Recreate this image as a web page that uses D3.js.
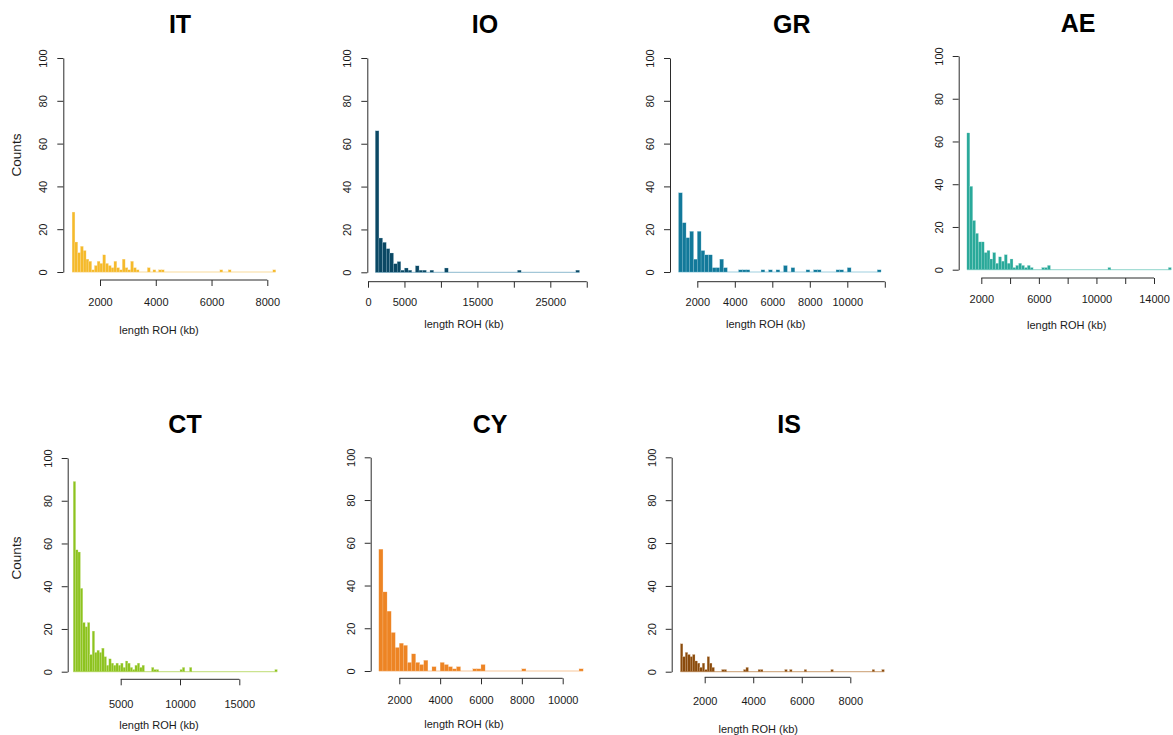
<!DOCTYPE html>
<html>
<head>
<meta charset="utf-8">
<script src="https://cdn.jsdelivr.net/npm/d3@7"></script>
<style>
  body { margin: 0; background: #ffffff; }
  svg { display: block; font-family: "Liberation Sans", Arial, Helvetica, sans-serif; }
</style>
</head>
<body>
<svg id="chart" width="1173" height="735"></svg>
<script>
// ---- Data: ROH length histograms per population (counts per bin) ----
const populations = ["IT", "IO", "GR", "AE", "CT", "CY", "IS"];
const binStartKb = [1000, 1000, 1000, 1000, 1000, 1000, 1000];
const binWidthKb = [100, 500, 200, 200, 200, 200, 100];

const itCounts = [28,14,9,12,10,6,5,1,3,5,4,8,4,3,2,5,2,1,6,2,1,5,2,1,
  0,0,0,2,0,1,0,1,1,
  0,0,0,0,0,0,0,0,0,0,0,0,0,0,0,0,0,0,0,0,
  1,0,0,1,
  0,0,0,0,0,0,0,0,0,0,0,0,0,0,0,
  1];
const ioCounts = [66,16,14,11,9,4,5,1,2,1,0,3,1,1,0,1,0,0,0,2,
  0,0,0,0,0,0,0,0,0,0,0,0,0,0,0,0,0,0,0,
  1,
  0,0,0,0,0,0,0,0,0,0,0,0,0,0,0,
  1];
const grCounts = [37,23,16,19,6,19,10,8,8,2,2,6,2,0,0,0,1,1,1,0,0,0,1,0,1,0,1,0,3,0,2,0,0,0,1,0,1,1,0,0,0,0,1,1,0,2,
  0,0,0,0,0,0,0,
  1];
const aeCounts = [64,39,23,17,13,13,8,9,5,8,3,6,4,7,3,5,1,2,3,2,1,2,1,
  0,0,0,1,1,2,
  0,0,0,0,0,0,0,0,0,0,0,0,0,0,0,0,0,0,0,0,
  1,
  0,0,0,0,0,0,0,0,0,0,0,0,0,0,0,0,0,0,0,0,
  1];
const ctCounts = [89,57,56,39,23,21,23,8,19,9,10,9,11,7,3,6,4,3,4,3,4,2,5,4,2,1,3,4,2,3,
  0,0,0,2,1,1,
  0,0,0,0,0,0,0,0,0,
  1,2,0,0,2,
  0,0,0,0,0,0,0,0,0,0,0,0,0,0,0,0,0,0,0,0,0,0,0,0,0,0,0,0,0,0,0,0,0,0,0,
  1];
const cyCounts = [57,37,28,18,11,13,12,4,8,4,3,5,0,2,0,4,3,2,1,2,0,0,0,1,1,3,
  0,0,0,0,0,0,0,0,0,
  1,
  0,0,0,0,0,0,0,0,0,0,0,0,0,
  1];
const isCounts = [13,7,9,8,7,8,5,4,2,4,1,7,4,2,
  0,0,0,1,1,
  0,0,0,0,0,0,0,
  1,2,
  0,0,0,0,
  1,1,
  0,0,0,0,0,0,0,0,0,
  1,0,1,
  0,0,0,0,0,
  1,
  0,0,0,0,0,0,0,0,0,0,
  1,
  0,0,0,0,0,0,0,0,0,0,0,0,0,0,0,0,
  1,
  0,0,0,
  1];
const countsByPop = [itCounts, ioCounts, grCounts, aeCounts, ctCounts, cyCounts, isCounts];

// Axis ticks
const yTicks = [0, 20, 40, 60, 80, 100];
const xTickValues = [
  [2000, 4000, 6000, 8000],
  [0, 5000, 10000, 15000, 20000, 25000, 30000],
  [2000, 4000, 6000, 8000, 10000, 12000],
  [2000, 4000, 6000, 8000, 10000, 12000, 14000],
  [5000, 10000, 15000],
  [2000, 4000, 6000, 8000, 10000],
  [2000, 4000, 6000, 8000]
];
const xTickLabels = [
  ["2000", "4000", "6000", "8000"],
  ["0", "5000", "", "15000", "", "25000", ""],
  ["2000", "4000", "6000", "8000", "10000", ""],
  ["2000", "", "6000", "", "10000", "", "14000"],
  ["5000", "10000", "15000"],
  ["2000", "4000", "6000", "8000", "10000"],
  ["2000", "4000", "6000", "8000"]
];

// ---- Styles ----
const barFill = ["#f5ba2b", "#0b4864", "#12799a", "#2aa99a", "#8dc31f", "#ed8424", "#8a4b0c"];
const barEdge = ["#f9dc9c", "#a3c7d8", "#9fd0e0", "#a5ddd5", "#cbe38f", "#f7c89c", "#d4b08c"];

// ---- Layout of each panel (pixel frame) ----
// ax: y-axis x position; y0/y100: pixel rows for 0 and 100 counts;
// kx: two reference kb values and their pixel columns; xaY: x-axis row;
// tlY: tick label baseline; xlX/xlY: x-axis title; tX/tY: panel title
const frames = [
  { ax: 63.3,  y0: 272,   y100: 58,   kx: [[2000, 100],   [8000, 267.3]],  xaY: 280,   tlY: 306, xlX: 159,   xlY: 334, tX: 180,   tY: 33, counts: { x: 21, y: 155 } },
  { ax: 367.3, y0: 272.3, y100: 58,   kx: [[0, 368],      [25000, 550.3]], xaY: 281.7, tlY: 306, xlX: 464,   xlY: 328, tX: 485,   tY: 33 },
  { ax: 670,   y0: 272,   y100: 58,   kx: [[2000, 697.3], [10000, 847.3]], xaY: 281.7, tlY: 306, xlX: 765.7, xlY: 328, tX: 791.7, tY: 33 },
  { ax: 958.7, y0: 269.7, y100: 56,   kx: [[2000, 981.3], [14000, 1154]],  xaY: 278,   tlY: 303, xlX: 1066.7, xlY: 329, tX: 1078, tY: 32 },
  { ax: 67.7,  y0: 671.7, y100: 458,  kx: [[5000, 120.7], [15000, 239.3]], xaY: 679.3, tlY: 708, xlX: 159,   xlY: 729, tX: 185,   tY: 433, counts: { x: 21, y: 558 } },
  { ax: 370.7, y0: 671,   y100: 457.3, kx: [[2000, 399.3], [10000, 562.7]], xaY: 678.3, tlY: 704, xlX: 464,  xlY: 728, tX: 490,   tY: 433 },
  { ax: 671.7, y0: 671.7, y100: 457.3, kx: [[2000, 704.7], [8000, 850.3]],  xaY: 677.3, tlY: 705, xlX: 758.3, xlY: 733, tX: 789,  tY: 433 }
];

const axisColor = "#2b2b2b";
const textColor = "#1a1a1a";

const svg = d3.select("#chart");

populations.forEach((pop, i) => {
  const f = frames[i];
  const counts = countsByPop[i];
  const start = binStartKb[i];
  const width = binWidthKb[i];

  const xs = d3.scaleLinear()
    .domain([f.kx[0][0], f.kx[1][0]])
    .range([f.kx[0][1], f.kx[1][1]]);
  const ys = d3.scaleLinear().domain([0, 100]).range([f.y0, f.y100]);

  const g = svg.append("g").attr("class", "panel panel-" + pop);

  const bins = counts.map((c, k) => ({ x0: start + k * width, x1: start + (k + 1) * width, n: c }));

  // zero line drawn by empty bins
  g.append("line")
    .attr("x1", xs(bins[0].x0)).attr("x2", xs(bins[bins.length - 1].x1))
    .attr("y1", ys(0)).attr("y2", ys(0))
    .attr("stroke", barEdge[i]).attr("stroke-width", 1.2);

  // histogram bars
  g.selectAll("rect.bar")
    .data(bins.filter(b => b.n > 0))
    .join("rect")
    .attr("class", "bar")
    .attr("x", b => xs(b.x0))
    .attr("width", b => xs(b.x1) - xs(b.x0))
    .attr("y", b => ys(b.n))
    .attr("height", b => ys(0) - ys(b.n))
    .attr("fill", barFill[i])
    .attr("stroke", barEdge[i])
    .attr("stroke-width", 0.25);

  // y axis
  const yAxis = g.append("g")
    .attr("transform", `translate(${f.ax},0)`)
    .call(d3.axisLeft(ys).tickValues(yTicks).tickSize(6).tickSizeOuter(0));
  yAxis.select(".domain").attr("stroke", axisColor);
  yAxis.selectAll(".tick line").attr("stroke", axisColor);
  yAxis.selectAll(".tick text")
    .attr("transform", "rotate(-90)")
    .attr("x", 0).attr("y", -16).attr("dy", 0)
    .attr("text-anchor", "middle")
    .attr("font-size", 11)
    .attr("fill", textColor)
    .attr("font-family", null);

  // x axis
  const ticks = xTickValues[i];
  const labels = xTickLabels[i];
  const xAxis = g.append("g")
    .attr("transform", `translate(0,${f.xaY})`)
    .call(d3.axisBottom(xs).tickValues(ticks).tickSize(6).tickSizeOuter(0)
      .tickFormat((d, k) => labels[k]));
  xAxis.select(".domain").remove();
  xAxis.append("line")
    .attr("x1", xs(ticks[0])).attr("x2", xs(ticks[ticks.length - 1]))
    .attr("y1", 0).attr("y2", 0)
    .attr("stroke", axisColor);
  xAxis.selectAll(".tick line").attr("stroke", axisColor);
  xAxis.selectAll(".tick text")
    .attr("y", f.tlY - f.xaY).attr("dy", 0)
    .attr("font-size", 11)
    .attr("fill", textColor)
    .attr("font-family", null);

  // axis titles
  g.append("text")
    .attr("x", f.xlX).attr("y", f.xlY)
    .attr("text-anchor", "middle")
    .attr("font-size", 11)
    .attr("fill", textColor)
    .text("length ROH (kb)");

  if (f.counts) {
    g.append("text")
      .attr("transform", `translate(${f.counts.x},${f.counts.y}) rotate(-90)`)
      .attr("text-anchor", "middle")
      .attr("font-size", 13.5)
      .attr("fill", textColor)
      .text("Counts");
  }

  // panel title
  g.append("text")
    .attr("x", f.tX).attr("y", f.tY)
    .attr("text-anchor", "middle")
    .attr("font-size", 25)
    .attr("font-weight", "bold")
    .attr("fill", "#000000")
    .text(pop);
});
</script>
</body>
</html>
